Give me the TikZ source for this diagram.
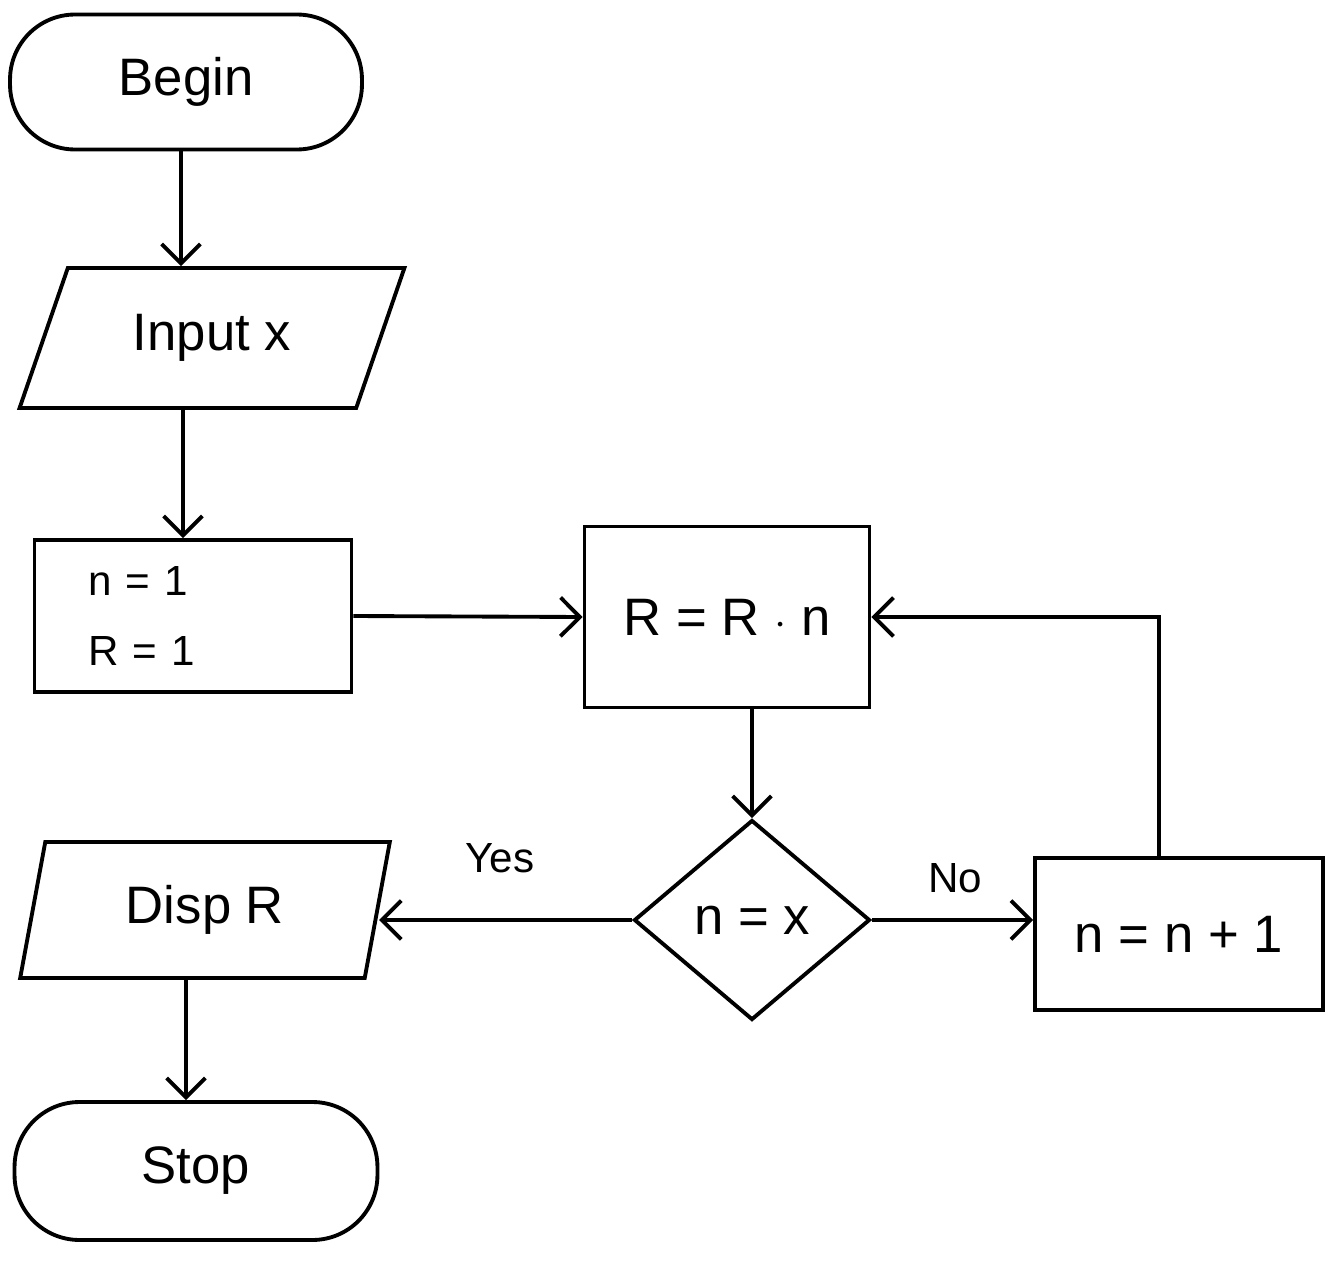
\documentclass[tikz,border=0pt]{standalone}
\usepackage{fontspec}
\setmainfont{Liberation Sans}
\usetikzlibrary{shapes.geometric,arrows.meta}
\begin{document}
\begin{tikzpicture}[x=0.02cm,y=-0.02cm,
  every node/.style={line width=2.2pt,draw,font=\fontsize{30}{36}\selectfont,inner sep=2pt},
  term/.style={rectangle,rounded corners=1.3cm},
  io/.style={trapezium,trapezium stretches=true},
  proc/.style={rectangle},
  dec/.style={diamond,inner sep=0pt},
  lbl/.style={draw=none,font=\fontsize{24}{28}\selectfont},
  arr/.style={line width=2.2pt,-{Straight Barb[length=11pt,width=22pt,line width=2.2pt]}}]
\fill[white] (0,0) rectangle (1333,1261);
\useasboundingbox (0,0) rectangle (1333,1261);
\node[term,minimum width=7.04cm,minimum height=2.7cm] (begin) at (186,82) {Begin};
\node[io,trapezium left angle=63,trapezium right angle=117,minimum width=7.7cm,minimum height=2.8cm] (input) at (212,338) {Input x};
\node[proc,minimum width=6.34cm,minimum height=3.04cm,text width=4.2cm,align=left,font=\fontsize{24}{40}\selectfont] (init) at (193,616) {n = 1\\R = 1};
\node[proc,minimum width=5.7cm,minimum height=3.62cm] (rrn) at (727,617) {R = R $\cdot$ n};
\node[dec,minimum width=4.72cm,minimum height=4.0cm] (dia) at (752,920) {n = x};
\node[proc,minimum width=5.76cm,minimum height=3.04cm] (inc) at (1179,934) {n = n + 1};
\node[io,trapezium left angle=77,trapezium right angle=103,minimum width=7.4cm,minimum height=2.72cm] (disp) at (205,910) {Disp R};
\node[term,minimum width=7.26cm,minimum height=2.76cm] (stop) at (196,1171) {Stop};
\node[lbl] (yes) at (500,858) {Yes};
\node[lbl] (no) at (955,878) {No};
\draw[arr] ([xshift=-0.1cm]begin.south) -- ([xshift=-0.1cm]begin.south |- input.north);
\draw[arr] ([xshift=-0.2cm]init.north |- input.south) -- ([xshift=-0.2cm]init.north);
\draw[arr] (init.east) -- (rrn.west);
\draw[arr] (dia.north |- rrn.south) -- (dia.north);
\draw[arr] (dia.east) -- (dia.east -| inc.west);
\draw[arr] ([xshift=-0.4cm]inc.north) |- (rrn.east);
\draw[arr] (dia.west) -- (dia.west -| disp.east);
\draw[arr] ([xshift=-0.2cm]stop.north |- disp.south) -- ([xshift=-0.2cm]stop.north);
\end{tikzpicture}
\end{document}
